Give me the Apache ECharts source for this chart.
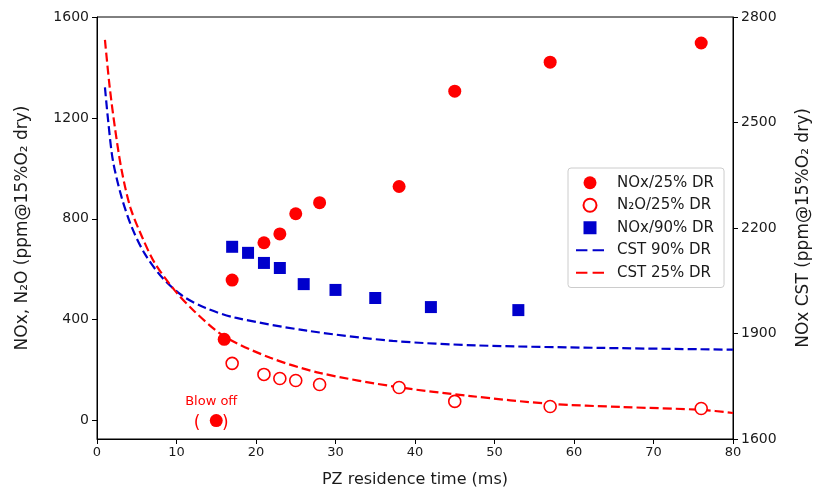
<!DOCTYPE html>
<html>
    <head>
        <meta charset="utf-8">
        <title>NOx vs PZ residence time</title>
        <script type="text/javascript" src="https://cdn.jsdelivr.net/npm/echarts@6/dist/echarts.min.js"></script>
        <style>
            body { margin: 0; background: #fff; }
            #chart { width: 814px; height: 496px; }
        </style>
    </head>
    <body>
        <div id="chart"></div>
        <script>
            // data: [time (ms), ppm]
            var nox25 = [[16, 322], [17, 557], [21, 705], [23, 740], [25, 820], [28, 864],
                         [38, 928], [45, 1306], [57, 1421], [76, 1497]];
            var blowOff = [15, 0];
            var n2o25 = [[17, 227], [21, 183], [23, 167], [25, 159], [28, 143], [38, 131],
                         [45, 76], [57, 56], [76, 48]];
            var nox90 = [[17, 689], [19, 665], [21, 625], [23, 605], [26, 541], [30, 518],
                         [35, 486], [42, 450], [53, 438]];
            // CST curves, right axis
            var cst90 = [[1, 2600], [1.4, 2506], [2, 2392], [3.1, 2287], [4.4, 2201], [6, 2127],
                         [8.2, 2059], [10.7, 2008], [13.6, 1973], [17.4, 1945], [26.4, 1908],
                         [37.2, 1879], [48, 1866], [63.6, 1859], [80, 1854]];
            var cst25 = [[1, 2735], [1.6, 2600], [2.3, 2478], [3.1, 2364], [4.2, 2258], [5.7, 2173],
                         [7.3, 2099], [9.8, 2022], [12.3, 1962], [16, 1892], [21.8, 1831],
                         [28, 1788], [37.7, 1748], [47, 1722], [57, 1700], [66, 1691],
                         [76, 1683], [80, 1674]];
            var leftTicks = [0, 400, 800, 1200, 1600];

            var red = '#ff0000';
            var blue = '#0000cc';
            var ink = '#1a1a1a';
            var font = 'DejaVu Sans';
            var dashIcon = 'path://M0,0h11v2h-11zM16,0h11v2h-11z';
            var squareIcon = 'path://M0,0h10v10h-10z';
            var plain = function (v) { return String(v); };

            var chart = echarts.init(document.getElementById('chart'));
            var option = {
                animation: false,
                textStyle: { fontFamily: font, color: ink },
                grid: {
                    left: 97, right: 81, top: 17, bottom: 57,
                    outerBoundsMode: 'none',
                    show: true, borderColor: '#000', borderWidth: 1
                },
                legend: {
                    orient: 'vertical',
                    left: 568, top: 168,
                    padding: [6, 10, 6, 8],
                    itemWidth: 28, itemHeight: 13, itemGap: 5,
                    backgroundColor: '#fff',
                    borderColor: '#cccccc', borderWidth: 1, borderRadius: 3,
                    textStyle: { fontFamily: font, fontSize: 15, color: ink, lineHeight: 17.5, padding: [0, 0, 0, 8] },
                    data: [
                        { name: 'NOx/25% DR', icon: 'circle' },
                        { name: 'N\u2082O/25% DR', icon: 'circle' },
                        { name: 'NOx/90% DR', icon: squareIcon },
                        { name: 'CST 90% DR', icon: dashIcon },
                        { name: 'CST 25% DR', icon: dashIcon }
                    ]
                },
                xAxis: {
                    type: 'value', min: 0, max: 80, interval: 10,
                    name: 'PZ residence time (ms)', nameLocation: 'middle', nameGap: 33,
                    nameTextStyle: { fontSize: 16, color: ink },
                    axisLine: { onZero: false, lineStyle: { color: '#000' } },
                    axisTick: { length: 5, lineStyle: { color: '#000' } },
                    axisLabel: { fontSize: 13, color: ink, margin: 7, formatter: plain },
                    splitLine: { show: false }
                },
                yAxis: [
                    {
                        type: 'value', min: -73, max: 1600,
                        name: 'NOx, N\u2082O (ppm@15%O\u2082 dry)', nameLocation: 'middle', nameGap: 66,
                        nameTextStyle: { fontSize: 17, color: ink },
                        axisLine: { show: true, lineStyle: { color: '#000' } },
                        axisTick: { show: true, length: 5, customValues: leftTicks, lineStyle: { color: '#000' } },
                        axisLabel: { fontSize: 14, color: ink, margin: 8, customValues: leftTicks, formatter: plain },
                        splitLine: { show: false }
                    },
                    {
                        type: 'value', min: 1600, max: 2800, interval: 300, position: 'right',
                        name: 'NOx CST (ppm@15%O\u2082 dry)', nameLocation: 'middle', nameGap: 62,
                        nameTextStyle: { fontSize: 17, color: ink },
                        axisLine: { show: true, lineStyle: { color: '#000' } },
                        axisTick: { show: true, length: 5, lineStyle: { color: '#000' } },
                        axisLabel: { fontSize: 14, color: ink, margin: 8, formatter: plain },
                        splitLine: { show: false }
                    }
                ],
                series: [
                    {
                        name: 'CST 90% DR', type: 'line', yAxisIndex: 1,
                        data: cst90, symbol: 'none', smooth: 0.3,
                        itemStyle: { color: blue },
                        lineStyle: { color: blue, width: 2.2, type: [9, 4] },
                        z: 1
                    },
                    {
                        name: 'CST 25% DR', type: 'line', yAxisIndex: 1,
                        data: cst25, symbol: 'none', smooth: 0.3,
                        itemStyle: { color: red },
                        lineStyle: { color: red, width: 2.2, type: [9, 4] },
                        z: 1
                    },
                    {
                        name: 'NOx/25% DR', type: 'scatter', symbol: 'circle', symbolSize: 13,
                        itemStyle: { color: red, opacity: 1 },
                        data: nox25.concat([{
                            value: blowOff,
                            label: {
                                show: true, position: 'inside', offset: [-5, -8],
                                formatter: '{a|Blow off}\n{b|(    )}',
                                rich: {
                                    a: { fontFamily: font, fontSize: 13, color: red, lineHeight: 21 },
                                    b: { fontFamily: font, fontSize: 17, color: red, lineHeight: 21 }
                                }
                            }
                        }]),
                        z: 3
                    },
                    {
                        name: 'N\u2082O/25% DR', type: 'scatter', symbol: 'circle', symbolSize: 12,
                        itemStyle: { color: '#fff', borderColor: red, borderWidth: 1.6, opacity: 1 },
                        data: n2o25, z: 3
                    },
                    {
                        name: 'NOx/90% DR', type: 'scatter', symbol: 'rect', symbolSize: 12,
                        itemStyle: { color: blue, opacity: 1 },
                        data: nox90, z: 3
                    }
                ]
            };
            chart.setOption(option);
        </script>
    </body>
</html>
